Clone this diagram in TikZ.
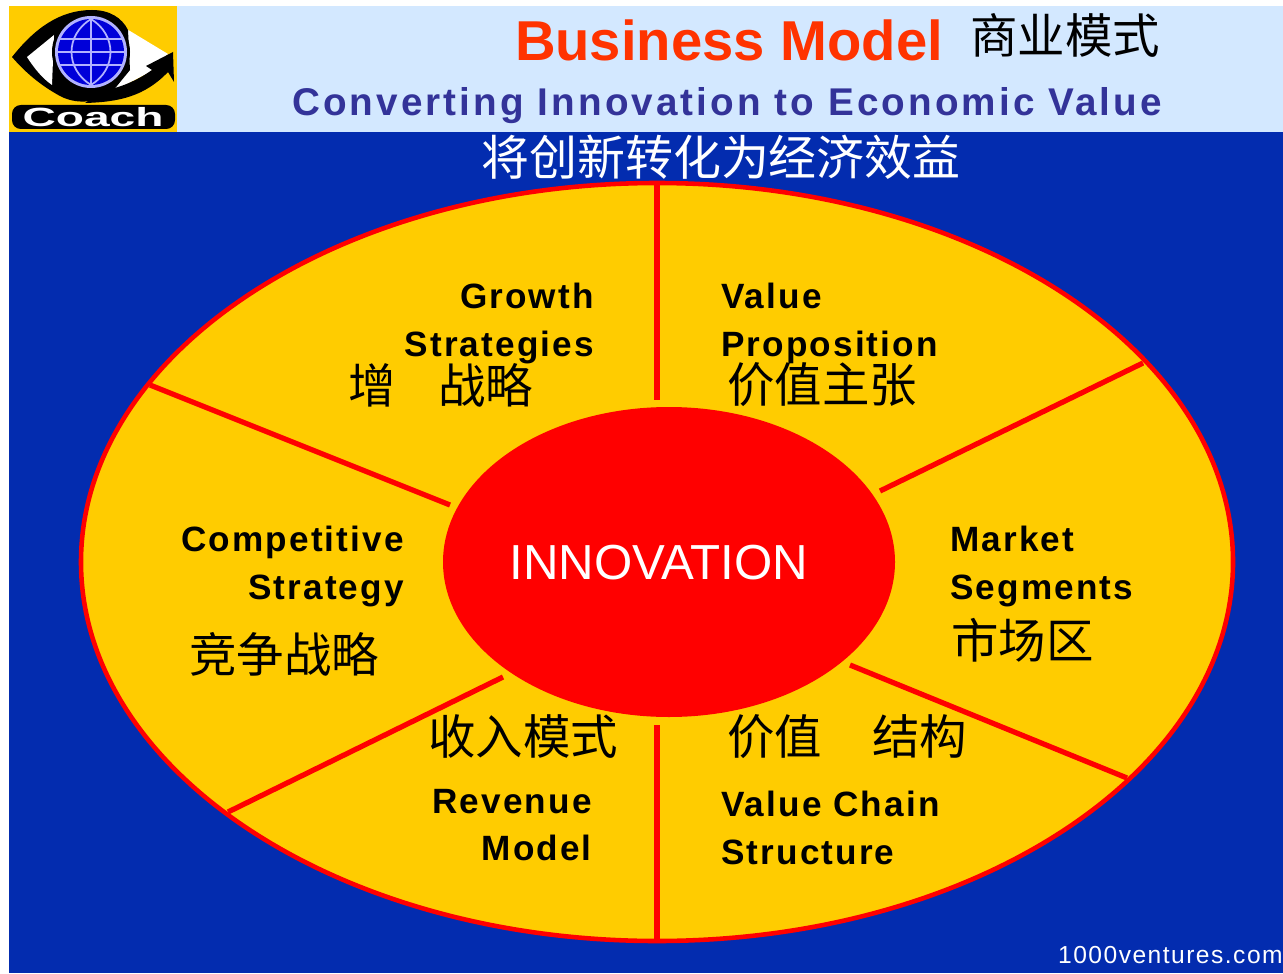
\documentclass[tikz,border=0pt]{standalone}
\usepackage{fontspec}
\setmainfont{Liberation Sans}
\newfontfamily\cjk{Noto Sans CJK SC}
\newfontfamily\spaced[LetterSpace=6]{Liberation Sans}
\newfontfamily\wide[LetterSpace=8]{Liberation Sans}
\definecolor{bandblue}{HTML}{D3E8FF}
\definecolor{deepblue}{HTML}{032CAF}
\definecolor{gold}{HTML}{FFCC00}
\definecolor{inkblue}{HTML}{333399}
\definecolor{titlered}{HTML}{FF3300}
\tikzset{
 spoke/.style={draw=red,line width=3pt},
 en/.style={font=\spaced\bfseries\fontsize{20}{27}\selectfont,text=black,inner sep=0pt,align=left},
 zh/.style={font=\cjk\fontsize{27}{30}\selectfont,text=black,inner sep=0pt,anchor=west},
}
\begin{document}
\begin{tikzpicture}[x=0.02cm,y=-0.02cm]
\useasboundingbox (0,0) rectangle (1283,973);
\fill[bandblue] (9,6) rectangle (1283,132);
\fill[deepblue] (9,132) rectangle (1283,973);
% logo
\fill[gold] (9,6) rectangle (177,132);
\fill[white] (125,28) -- (168,54) -- (150,72) -- (112,92) -- cycle;
\fill[black] (12,57) .. controls (35,28) and (60,10) .. (92,10) .. controls (110,10) and (122,18) .. (128,30) -- (130,70) -- (112,92) .. controls (95,104) and (75,104) .. (60,96) .. controls (40,85) and (25,72) .. (12,57) -- cycle;
\fill[white] (27,57) -- (54,35) -- (52,85) .. controls (42,78) and (34,68) .. (27,57) -- cycle;
\fill[black] (105,90) .. controls (120,88) and (138,80) .. (152,70) -- (146,66) -- (173,52) -- (174,82) -- (168,72) .. controls (145,96) and (120,102) .. (85,103) -- cycle;
\fill[black] (91,52) circle (39);
\fill[white!70!blue] (91,52) circle (36);
\fill[blue!85!black] (91,52) circle (33);
\draw[white!70!blue,line width=1pt] (58,52) -- (124,52) (91,19) -- (91,85) (60,39) -- (122,39) (60,65) -- (122,65) (91,19) .. controls (65,35) and (65,69) .. (91,85) (91,19) .. controls (117,35) and (117,69) .. (91,85);
\fill[black,rounded corners=5pt] (12,105) rectangle (175,129);
\node[inner sep=0pt,text=white,xscale=1.75,font=\bfseries\fontsize{15}{15}\selectfont] (coachlabel) at (93,117) {Coach};
% titles
\node[inner sep=0pt,text=titlered,font=\bfseries\fontsize{32}{32}\selectfont] (titleen) at (729,40) {Business Model};
\node[inner sep=0pt,font=\cjk\fontsize{27}{30}\selectfont] (titlezh) at (1065,35) {商业模式};
\node[inner sep=0pt,text=inkblue,font=\wide\bfseries\fontsize{22}{26}\selectfont] (suben) at (727,106) {Converting Innovation to Economic Value};
\node[inner sep=0pt,text=white,font=\cjk\fontsize{27.3}{30}\selectfont] (subzh) at (721,157) {将创新转化为经济效益};
% wheel
\draw[fill=gold,draw=red,line width=2.6pt] (657,562) ellipse (576 and 379);
\coordinate (top) at (657,185);
\coordinate (topin) at (657,400);
\coordinate (bottom) at (657,940);
\coordinate (bottomin) at (657,725);
\coordinate (upleft) at (150,385);
\coordinate (upleftin) at (450,505);
\coordinate (lowleft) at (228,812);
\coordinate (lowleftin) at (503,677);
\coordinate (upright) at (1143,363);
\coordinate (uprightin) at (880,491);
\coordinate (lowright) at (1127,778);
\coordinate (lowrightin) at (850,665);
\draw[spoke] (top) -- (topin);
\draw[spoke] (bottom) -- (bottomin);
\draw[spoke] (upleft) -- (upleftin);
\draw[spoke] (lowleft) -- (lowleftin);
\draw[spoke] (upright) -- (uprightin);
\draw[spoke] (lowright) -- (lowrightin);
\fill[red] (669,562) ellipse (226 and 155);
\node[inner sep=0pt,text=white,font=\fontsize{28}{30}\selectfont] (hub) at (659,563) {INNOVATION};
% segments
\node[en,align=right,anchor=north east] (growth) at (594,283) {Growth\\Strategies};
\node[zh] (growthzh) at (348,385) {增\hspace{0.9em}战略};
\node[en,anchor=north west] (value) at (721,283) {Value\\Proposition};
\node[zh] (valuezh) at (727,385) {价值主张};
\node[en,align=right,anchor=north east] (compet) at (404,526) {Competitive\\Strategy};
\node[zh] (competzh) at (189,654) {竞争战略};
\node[en,anchor=north west] (market) at (950,526) {Market\\Segments};
\node[zh] (marketzh) at (951,640) {市场区};
\node[zh] (revenuezh) at (428,737) {收入模式};
\node[en,align=right,anchor=north east] (revenue) at (592,789) {Revenue\\Model};
\node[zh] (chainzh) at (727,737) {价值\hspace{1.05em}结构};
\node[en,anchor=north west] (chain) at (721,791) {Value Chain\\Structure};
\node[inner sep=0pt,anchor=east,text=white,font=\spaced\fontsize{14}{15}\selectfont] (credit) at (1283,955) {1000ventures.com};
\end{tikzpicture}
\end{document}
